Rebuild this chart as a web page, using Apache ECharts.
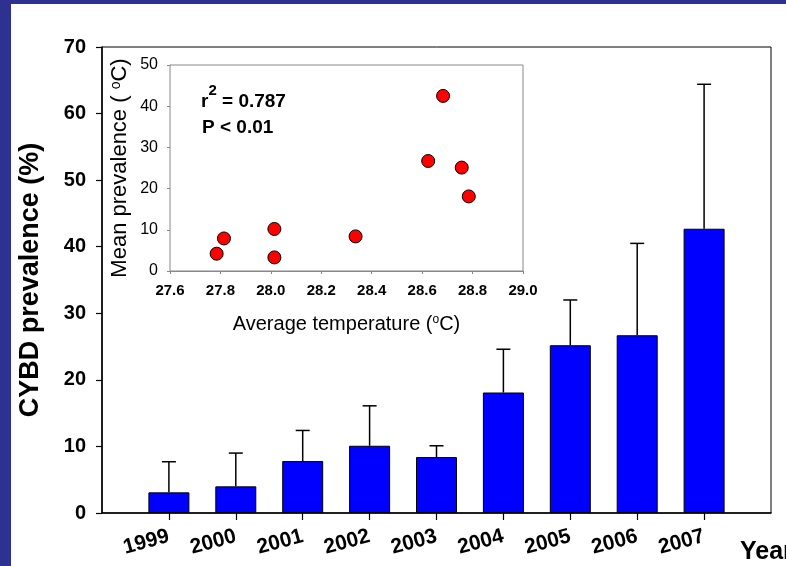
<!DOCTYPE html>
<html>
<head>
<meta charset="utf-8">
<script src="https://cdn.jsdelivr.net/npm/echarts@6/dist/echarts.min.js"></script>
<style>
html,body{margin:0;padding:0;background:#2e3192;width:786px;height:566px;overflow:hidden;}
#paper{position:absolute;left:11px;top:4px;width:775px;height:562px;background:#ffffff;}
#c{position:absolute;left:0;top:0;width:786px;height:566px;}
</style>
</head>
<body>
<div id="paper"></div>
<div id="c"></div>
<script>
// ---- data ----
const years = ['1999','2000','2001','2002','2003','2004','2005','2006','2007'];
const prevalence = [3.1, 4.0, 7.8, 10.1, 8.4, 18.1, 25.2, 26.7, 42.7];
const errorSD = [4.6, 5.0, 4.6, 6.0, 1.7, 6.5, 6.8, 13.8, 21.7];
const avgTemp = [28.014, 27.785, 27.814, 28.014, 28.336, 28.785, 28.757, 28.624, 28.683];
const meanPrev = [3.3, 4.2, 7.9, 10.2, 8.4, 18.1, 25.1, 26.7, 42.5];
const mainYTicks = [0, 70, 10];   // min, max, interval
const insetXTicks = [27.6, 29.0, 0.2];
const insetYTicks = [0, 50, 10];

const FF = 'Arial, "Liberation Sans", sans-serif';
const chart = echarts.init(document.getElementById('c'), null, {renderer: 'canvas'});
const positions = years.map((y, i) => i + 1);

const option = {
  backgroundColor: 'transparent',
  animation: false,
  grid: [
    {left: 102, top: 47, right: 15, bottom: 53, show: true, borderColor: '#000', borderWidth: 1, backgroundColor: 'transparent'},
    {left: 170, top: 65, right: 263, bottom: 295, show: true, borderColor: '#888', borderWidth: 1, backgroundColor: '#fff', z: 5}
  ],
  xAxis: [
    {
      gridIndex: 0, type: 'value', min: 0, max: years.length + 1, interval: 1,
      splitLine: {show: false},
      axisLine: {show: true, onZero: false, lineStyle: {color: '#000', width: 1.5}},
      axisTick: {show: true, length: 7, customValues: positions, lineStyle: {color: '#000', width: 1.2}},
      axisLabel: {
        customValues: positions, rotate: 15, margin: 23,
        formatter: v => years[Math.round(v) - 1] || '',
        color: '#000', fontFamily: FF, fontWeight: 'bold', fontSize: 21
      }
    },
    {
      gridIndex: 1, type: 'value', min: insetXTicks[0], max: insetXTicks[1], interval: insetXTicks[2],
      splitLine: {show: false},
      axisLine: {show: true, onZero: false, lineStyle: {color: '#888', width: 1}},
      axisTick: {show: true, length: 3, lineStyle: {color: '#888'}},
      axisLabel: {formatter: v => v.toFixed(1), color: '#000', fontFamily: FF, fontWeight: 'bold', fontSize: 15, margin: 12},
      name: 'Average temperature ({s|o}C)', nameLocation: 'middle', nameGap: 43,
      nameTextStyle: {
        color: '#000', fontFamily: FF, fontSize: 20,
        rich: {s: {fontSize: 12, fontFamily: FF, color: '#000', verticalAlign: 'top', lineHeight: 12, padding: [0, 0, 9, 0]}}
      }
    }
  ],
  yAxis: [
    {
      gridIndex: 0, type: 'value', min: mainYTicks[0], max: mainYTicks[1], interval: mainYTicks[2],
      splitLine: {show: false},
      axisLine: {show: true, lineStyle: {color: '#000', width: 1.5}},
      axisTick: {show: true, length: 6, lineStyle: {color: '#000', width: 1.2}},
      axisLabel: {color: '#000', fontFamily: FF, fontWeight: 'bold', fontSize: 20, margin: 16},
      name: 'CYBD prevalence (%)', nameLocation: 'middle', nameGap: 58,
      nameTextStyle: {color: '#000', fontFamily: FF, fontWeight: 'bold', fontSize: 27}
    },
    {
      gridIndex: 1, type: 'value', min: insetYTicks[0], max: insetYTicks[1], interval: insetYTicks[2],
      splitLine: {show: false},
      axisLine: {show: true, lineStyle: {color: '#888', width: 1}},
      axisTick: {show: true, length: 3, lineStyle: {color: '#888'}},
      axisLabel: {color: '#000', fontFamily: FF, fontSize: 16, margin: 12},
      name: 'Mean prevalence ( {s|o}C)', nameLocation: 'middle', nameGap: 39,
      nameTextStyle: {
        color: '#000', fontFamily: FF, fontSize: 22,
        rich: {s: {fontSize: 14, fontFamily: FF, color: '#000', verticalAlign: 'top', lineHeight: 14, padding: [0, 0, 9, 0]}}
      }
    }
  ],
  series: [
    {
      type: 'bar', xAxisIndex: 0, yAxisIndex: 0, barWidth: 41,
      data: prevalence.map((v, i) => [positions[i], v]),
      itemStyle: {color: '#0000ff', borderColor: '#000', borderWidth: 1}
    },
    {
      type: 'custom', xAxisIndex: 0, yAxisIndex: 0, z: 3,
      data: prevalence.map((v, i) => [positions[i], v, errorSD[i]]),
      renderItem: function (params, api) {
        const x = api.value(0), y = api.value(1), e = api.value(2);
        const b = api.coord([x, y]);
        const t = api.coord([x, y + e]);
        const st = {stroke: '#000', lineWidth: 1.5};
        return {
          type: 'group',
          children: [
            {type: 'line', shape: {x1: b[0], y1: b[1], x2: t[0], y2: t[1]}, style: st},
            {type: 'line', shape: {x1: t[0] - 7, y1: t[1], x2: t[0] + 7, y2: t[1]}, style: st}
          ]
        };
      }
    },
    {
      type: 'scatter', xAxisIndex: 1, yAxisIndex: 1, z: 6,
      symbol: 'circle', symbolSize: 13,
      data: avgTemp.map((t, i) => [t, meanPrev[i]]),
      itemStyle: {color: '#ff0000', borderColor: '#000', borderWidth: 1, opacity: 1}
    }
  ],
  graphic: [
    {
      type: 'text', left: 201, top: 83, z: 10,
      style: {
        text: '{b|r}{s|2}{b| = 0.787}',
        rich: {
          b: {fontFamily: FF, fontWeight: 'bold', fontSize: 19, fill: '#000', lineHeight: 28, verticalAlign: 'bottom'},
          s: {fontFamily: FF, fontWeight: 'bold', fontSize: 15, fill: '#000', lineHeight: 15, verticalAlign: 'top'}
        }
      }
    },
    {
      type: 'text', left: 202, top: 118, z: 10,
      style: {text: 'P < 0.01', fontFamily: FF, fontWeight: 'bold', fontSize: 19, fill: '#000'}
    },
    {
      type: 'text', left: 740, top: 540, z: 10,
      style: {text: 'Year', fontFamily: FF, fontWeight: 'bold', fontSize: 25, fill: '#000'}
    }
  ]
};
chart.setOption(option);
</script>
</body>
</html>
